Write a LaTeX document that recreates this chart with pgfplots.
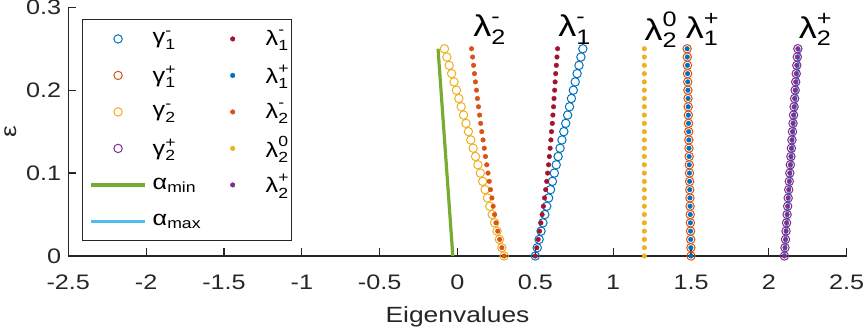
\documentclass[border=0pt]{standalone}
\usepackage{fontspec}
\setmainfont{Liberation Sans}[FakeStretch=1.2]
\usepackage{amsmath}
\usepackage{pgfplots}
\usepackage{pgfplotstable}
\pgfplotsset{compat=1.18}

\definecolor{axgray}{rgb}{0.15,0.15,0.15}
\definecolor{mblue}{rgb}{0,0.447,0.741}
\definecolor{morange}{rgb}{0.85,0.325,0.098}
\definecolor{myellow}{rgb}{0.929,0.694,0.125}
\definecolor{mpurple}{rgb}{0.494,0.184,0.556}
\definecolor{mgreen}{rgb}{0.466,0.674,0.188}
\definecolor{mcyan}{rgb}{0.301,0.745,0.933}
\definecolor{mred}{rgb}{0.635,0.078,0.184}

\newcommand{\gl}[3]{$\text{#1}_{\text{#2}}^{\text{#3}}$}

% eps, bounds (g..) and eigenvalues (l..)
\pgfplotstableread{
eps  g1m    l1m    g2m     l2m   l20 g1p   l1p   g2p    l2p
0.00 0.5000 0.5000 0.3000  0.300 1.2 1.500 1.500 2.1000 2.1000
0.01 0.5122 0.5094 0.2847  0.285 1.2 1.499 1.499 2.1035 2.1035
0.02 0.5244 0.5184 0.2693  0.271 1.2 1.498 1.498 2.1069 2.1069
0.03 0.5366 0.5272 0.2540  0.258 1.2 1.497 1.497 2.1104 2.1104
0.04 0.5488 0.5356 0.2386  0.247 1.2 1.496 1.496 2.1138 2.1138
0.05 0.5610 0.5438 0.2233  0.238 1.2 1.495 1.495 2.1173 2.1173
0.06 0.5732 0.5516 0.2079  0.229 1.2 1.494 1.494 2.1207 2.1207
0.07 0.5854 0.5592 0.1926  0.221 1.2 1.493 1.493 2.1242 2.1242
0.08 0.5976 0.5664 0.1772  0.212 1.2 1.492 1.492 2.1276 2.1276
0.09 0.6098 0.5730 0.1619  0.204 1.2 1.491 1.491 2.1311 2.1311
0.10 0.6220 0.5790 0.1465  0.196 1.2 1.490 1.490 2.1345 2.1345
0.11 0.6342 0.5850 0.1312  0.188 1.2 1.489 1.489 2.1380 2.1380
0.12 0.6464 0.5900 0.1158  0.180 1.2 1.488 1.488 2.1414 2.1414
0.13 0.6586 0.5950 0.1005  0.172 1.2 1.487 1.487 2.1449 2.1449
0.14 0.6708 0.6000 0.0851  0.164 1.2 1.486 1.486 2.1483 2.1483
0.15 0.6830 0.6040 0.0698  0.156 1.2 1.485 1.485 2.1518 2.1518
0.16 0.6952 0.6090 0.0544  0.149 1.2 1.484 1.484 2.1552 2.1552
0.17 0.7074 0.6130 0.0391  0.142 1.2 1.483 1.483 2.1587 2.1587
0.18 0.7196 0.6170 0.0237  0.135 1.2 1.482 1.482 2.1621 2.1621
0.19 0.7318 0.6200 0.0084  0.128 1.2 1.481 1.481 2.1656 2.1656
0.20 0.7440 0.6240 -0.0070 0.122 1.2 1.480 1.480 2.1690 2.1690
0.21 0.7562 0.6270 -0.0224 0.115 1.2 1.479 1.479 2.1725 2.1725
0.22 0.7684 0.6310 -0.0377 0.109 1.2 1.478 1.478 2.1759 2.1759
0.23 0.7806 0.6350 -0.0531 0.103 1.2 1.477 1.477 2.1794 2.1794
0.24 0.7928 0.6390 -0.0684 0.097 1.2 1.476 1.476 2.1828 2.1828
0.25 0.8050 0.6430 -0.0838 0.090 1.2 1.475 1.475 2.1863 2.1863
}\evals

\pgfplotsset{
  circ/.style={only marks, mark=o, mark size=2.1pt, color=#1, mark options={line width=0.5pt}},
  dot/.style={only marks, mark=*, mark size=1.15pt, color=#1, mark options={line width=0.2pt}},
  bnd/.style={no marks, line width=1.6pt, color=#1},
}

\begin{document}
\begin{tikzpicture}
\begin{axis}[
  at={(0,0)}, anchor=south west,
  scale only axis, width=389.2pt, height=124.35pt,
  xmin=-2.5, xmax=2.5, ymin=0, ymax=0.3,
  axis lines=left,
  axis line style={-, draw=axgray, line width=0.6pt},
  tick align=inside, major tick length=4pt,
  tick style={draw=axgray, line width=0.6pt},
  xtick={-2.5,-2,-1.5,-1,-0.5,0,0.5,1,1.5,2,2.5},
  ytick={0,0.1,0.2,0.3},
  /pgf/number format/assume math mode=true,
  ticklabel style={font=\fontsize{10.5}{12}\selectfont, text=axgray},
  xticklabel style={yshift=-6pt},
  xlabel={Eigenvalues}, ylabel={ε},
  label style={font=\fontsize{11}{13}\selectfont, text=axgray},
  xlabel style={yshift=-1.4pt},
  ylabel shift=-2pt,
  clip=false,
  legend columns=2, legend cell align=left,
  legend image code/.code={
    \path[draw=none, fill=none] (0pt,0pt) -- (27pt,0pt);
    \draw[mark repeat=2,mark phase=2] plot coordinates {(0pt,0pt) (13.5pt,0pt) (27pt,0pt)};},
  legend style={
    at={(rel axis cs:0.0176,0.953)}, anchor=north west,
    draw=axgray, line width=0.5pt, fill=white,
    inner xsep=3.5pt, inner ysep=0.6pt,
    font=\fontsize{10.5}{12}\selectfont,
    nodes={inner xsep=3pt, inner ysep=0pt, minimum height=18.25pt},
    row sep=0pt,
    /tikz/every even column/.append style={column sep=3.5pt},
  },
]
% bounds alpha
\addplot[bnd=mgreen, forget plot] coordinates {(-0.03,0) (-0.125,0.25)};
\addplot[bnd=mcyan, forget plot] coordinates {(2.1,0) (2.195,0.25)};
% gamma bounds
\addplot[circ=mblue, forget plot] table[x=g1m, y=eps] {\evals};
\addplot[circ=morange, forget plot] table[x=g1p, y=eps] {\evals};
\addplot[circ=myellow, forget plot] table[x=g2m, y=eps] {\evals};
\addplot[circ=mpurple, forget plot] table[x=g2p, y=eps] {\evals};
% eigenvalues
\addplot[dot=mred, forget plot] table[x=l1m, y=eps] {\evals};
\addplot[dot=mblue, forget plot] table[x=l1p, y=eps] {\evals};
\addplot[dot=morange, forget plot] table[x=l2m, y=eps] {\evals};
\addplot[dot=myellow, forget plot] table[x=l20, y=eps] {\evals};
\addplot[dot=mpurple, forget plot] table[x=l2p, y=eps] {\evals};

% legend, row by row
\addlegendimage{circ=mblue}
\addlegendentry{\makebox[20pt][l]{\gl{γ}{1}{-}}}
\addlegendimage{dot=mred}
\addlegendentry{\makebox[6.5pt][l]{\gl{λ}{1}{-}}}
\addlegendimage{circ=morange}
\addlegendentry{\makebox[20pt][l]{\gl{γ}{1}{+}}}
\addlegendimage{dot=mblue}
\addlegendentry{\makebox[6.5pt][l]{\gl{λ}{1}{+}}}
\addlegendimage{circ=myellow}
\addlegendentry{\makebox[20pt][l]{\gl{γ}{2}{-}}}
\addlegendimage{dot=morange}
\addlegendentry{\makebox[6.5pt][l]{\gl{λ}{2}{-}}}
\addlegendimage{circ=mpurple}
\addlegendentry{\makebox[20pt][l]{\gl{γ}{2}{+}}}
\addlegendimage{dot=myellow}
\addlegendentry{\makebox[6.5pt][l]{\gl{λ}{2}{0}}}
\addlegendimage{bnd=mgreen}
\addlegendentry{\makebox[20pt][l]{$\text{α}_{\text{min}}$}}
\addlegendimage{dot=mpurple}
\addlegendentry{\makebox[6.5pt][l]{\gl{λ}{2}{+}}}
\addlegendimage{bnd=mcyan}
\addlegendentry{\makebox[20pt][l]{$\text{α}_{\text{max}}$}}

\begin{scope}[every node/.style={anchor=west, inner sep=0pt, font=\fontsize{15}{17}\selectfont}]
\node at (axis cs:0.1,0.273) {\gl{λ}{2}{-}};
\node at (axis cs:0.645,0.273) {\gl{λ}{1}{-}};
\node at (axis cs:1.2,0.273) {\gl{λ}{2}{0}};
\node at (axis cs:1.465,0.273) {\gl{λ}{1}{+}};
\node at (axis cs:2.19,0.273) {\gl{λ}{2}{+}};
\end{scope}
\end{axis}
\pgfresetboundingbox
\path[use as bounding box] (-34.15pt,-37pt) rectangle (397.85pt,128pt);
\end{tikzpicture}
\end{document}
